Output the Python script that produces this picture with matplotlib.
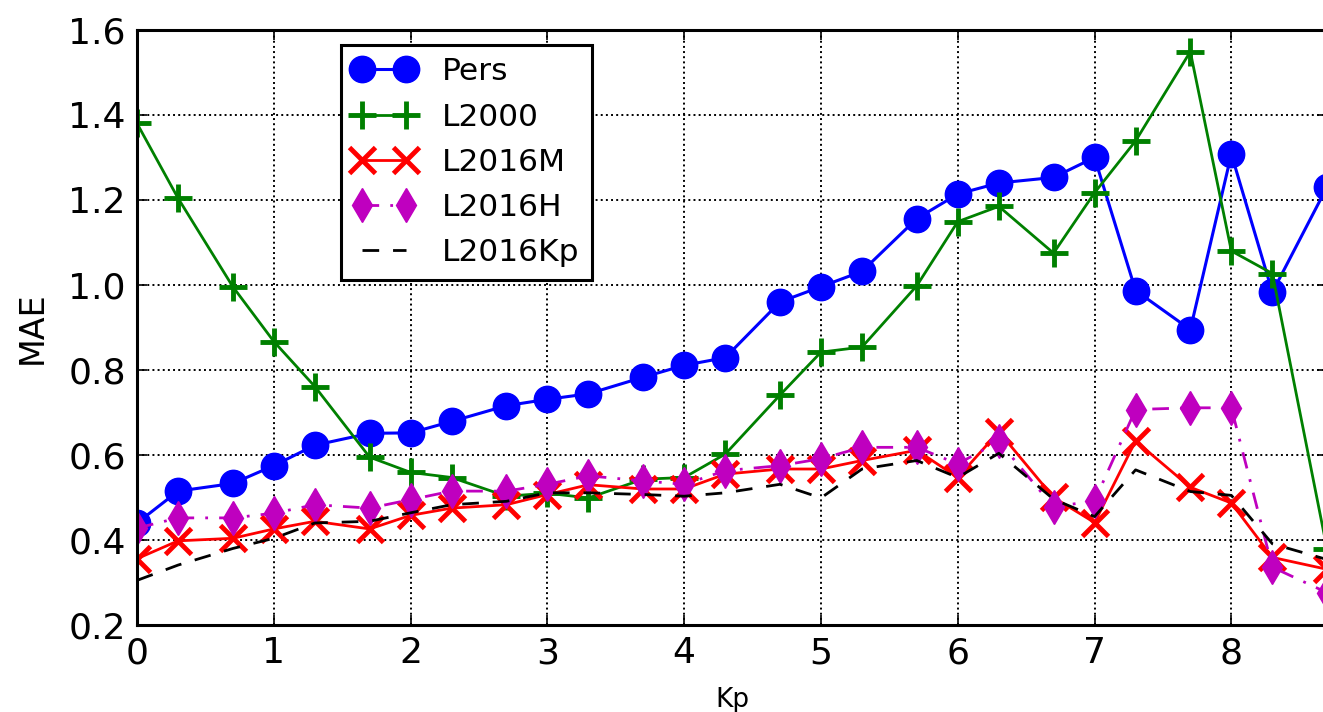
"""MAE vs Kp for persistence and the L2000 / L2016 models."""

import matplotlib

matplotlib.use("Agg")
import matplotlib.pyplot as plt

kp = [0, 0.3, 0.7, 1, 1.3, 1.7, 2, 2.3, 2.7, 3, 3.3, 3.7, 4, 4.3, 4.7,
      5, 5.3, 5.7, 6, 6.3, 6.7, 7, 7.3, 7.7, 8, 8.3, 8.7]

pers = [0.44, 0.515, 0.533, 0.575, 0.623, 0.651, 0.652, 0.679, 0.716, 0.731,
        0.744, 0.783, 0.811, 0.829, 0.960, 0.996, 1.032, 1.156, 1.214, 1.240,
        1.253, 1.300, 0.987, 0.895, 1.308, 0.983, 1.231]
l2000 = [1.38, 1.204, 0.996, 0.867, 0.761, 0.595, 0.559, 0.547, 0.503, 0.51,
         0.499, 0.543, 0.547, 0.602, 0.741, 0.842, 0.854, 0.998, 1.149, 1.185,
         1.075, 1.217, 1.339, 1.549, 1.08, 1.027, 0.378]
l2016m = [0.356, 0.398, 0.404, 0.426, 0.444, 0.426, 0.458, 0.475, 0.483, 0.507,
          0.53, 0.52, 0.52, 0.555, 0.567, 0.567, 0.587, 0.611, 0.547, 0.655,
          0.50, 0.441, 0.633, 0.524, 0.487, 0.359, 0.331]
l2016h = [0.428, 0.452, 0.452, 0.463, 0.483, 0.475, 0.495, 0.515, 0.515, 0.531,
          0.551, 0.539, 0.531, 0.563, 0.575, 0.591, 0.618, 0.618, 0.579, 0.632,
          0.478, 0.492, 0.707, 0.711, 0.711, 0.336, 0.276]
l2016kp = [0.305, 0.341, 0.38, 0.404, 0.44, 0.444, 0.464, 0.483, 0.491, 0.511,
           0.511, 0.507, 0.503, 0.511, 0.531, 0.499, 0.567, 0.587, 0.547, 0.604,
           0.496, 0.455, 0.565, 0.514, 0.505, 0.391, 0.354]

yticks = [0.2, 0.4, 0.6, 0.8, 1.0, 1.2, 1.4, 1.6]
xticks = [0, 1, 2, 3, 4, 5, 6, 7, 8]

fig = plt.figure(figsize=(13.23, 7.12), dpi=100)
# right spine sits a few pixels past the image edge, as in the cropped original
ax = fig.add_axes([0.1036, 0.1222, 0.8995, 0.8357])

ax.plot(kp, pers, "o-", color="b", lw=2.2, ms=19, mec="b", label="Pers")
ax.plot(kp, l2000, "+-", color="g", lw=2.0, ms=20, mew=3.5, label="L2000")
ax.plot(kp, l2016m, "x-", color="r", lw=2.0, ms=19, mew=3.5, label="L2016M")
ax.plot(kp, l2016h, "d-.", color="m", lw=2.0, ms=17, mec="m",
        dashes=(6, 4, 1, 4), label="L2016H")
ax.plot(kp, l2016kp, "--", color="k", lw=2.0, dashes=(6, 5), label="L2016Kp")

ax.set_xlim(0, 8.7)
ax.set_ylim(0.2, 1.6)
ax.set_xticks(xticks)
ax.set_yticks(yticks)
ax.set_yticklabels([f"{v:.1f}" for v in yticks])
ax.tick_params(direction="in", length=7, width=1.2, top=True, right=True,
               labelsize=26, pad=8)
ax.grid(True, color="k", linestyle=":", linewidth=1.4)
for sp in ax.spines.values():
    sp.set_linewidth(2.2)

ax.set_xlabel("Kp", fontsize=19, labelpad=12)
ax.set_ylabel("MAE", fontsize=24, labelpad=14)

leg = ax.legend(loc="upper left", bbox_to_anchor=(0.171, 0.975), borderaxespad=0,
                numpoints=2, fontsize=22.5, fancybox=False, framealpha=1,
                edgecolor="k", handlelength=2.0, labelspacing=0.52,
                borderpad=0.4, handletextpad=0.85)
leg.get_frame().set_linewidth(2.2)

fig.savefig("out.png", dpi=100)
